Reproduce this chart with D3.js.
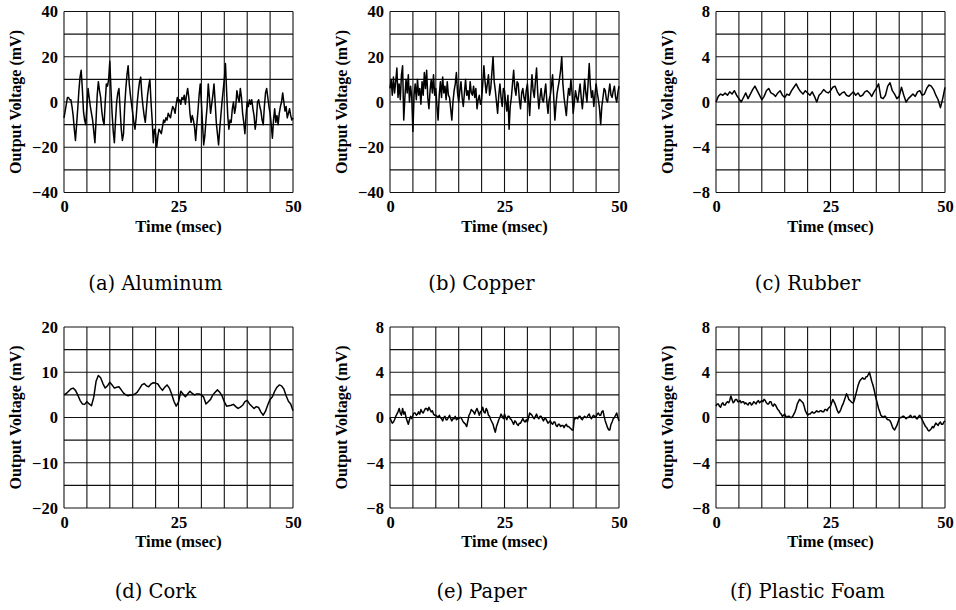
<!DOCTYPE html>
<html>
<head>
<meta charset="utf-8">
<script src="https://cdn.jsdelivr.net/npm/d3@7"></script>
<style>
  body { margin: 0; background: #fff; }
  svg { display: block; }
</style>
</head>
<body>
<svg width="956" height="610"></svg>
<script>
// panel captions
var captions = ["(a) Aluminum", "(b) Copper", "(c) Rubber", "(d) Cork", "(e) Paper", "(f) Plastic Foam"];

// y range (± mV) and tick labels of each panel
var yMax = [40, 40, 8, 20, 8, 8];
var yTicks = [
    [-40, -20, 0, 20, 40],
    [-40, -20, 0, 20, 40],
    [-8, -4, 0, 4, 8],
    [-20, -10, 0, 10, 20],
    [-8, -4, 0, 4, 8],
    [-8, -4, 0, 4, 8]
];
var xTicks = [0, 25, 50];

// sample spacing (msec) of each trace
var steps = [0.25, 0.25, 0.5, 0.5, 0.25, 0.25];

// output voltage (mV), sampled every 0.25 msec
var aluminum = [
    -7,-4,-1,2,2,1,1,-2,-6,-12,-17,-10,-3,5,11,14,6,-4,-8,-10,
    -2,6,2,-2,-5,-8,-13,-18,-8,3,9,5,2,-4,-8,-10,0,8,7,10,
    18,6,-5,-13,-18,-8,0,4,6,-3,-12,-17,-14,-2,6,12,16,8,3,-1,
    -5,-9,-12,-7,0,5,9,11,3,-2,-6,-9,-3,3,7,10,0,-8,-18,-12,
    -14,-20,-15,-12,-13,-14,-11,-8,-9,-7,-8,-5,-6,-7,-4,-2,-3,-5,-1,2,
    0,1,-1,2,1,3,-1,3,6,2,-5,-9,-6,-8,-11,-17,-10,-4,3,8,
    0,-10,-19,-15,-8,-2,8,2,-5,-1,3,8,0,-9,-14,-19,-12,-6,0,5,
    10,17,5,-6,-12,-8,-9,-3,0,-5,-2,5,2,0,6,2,-5,-9,-14,-6,
    0,-2,1,-1,1,-3,-6,-12,-8,0,1,-2,-4,-8,-10,-2,4,6,2,-2,
    -5,-10,-16,-8,-3,-9,-6,-10,-5,-2,0,4,0,-4,-2,-7,-5,-3,-6,-8,
    -7
];

// sampled every 0.25 msec
var copper = [
    6,10,3,11,4,9,15,2,8,1,12,16,-8,2,10,4,12,0,7,2,
    -13,3,8,1,10,3,6,-1,9,3,13,6,14,2,-3,5,10,4,12,3,
    6,-2,-8,3,9,2,11,4,7,1,9,3,2,-3,-8,0,5,8,13,4,
    0,5,9,2,-2,4,10,3,5,1,9,4,3,7,2,6,-3,1,3,-1,
    1,8,16,9,4,8,12,3,6,13,20,9,5,0,-5,3,8,2,-2,6,
    5,0,-4,3,-12,-2,2,8,14,6,3,9,8,1,-3,4,6,2,0,5,
    8,1,-6,4,12,5,2,9,15,4,-3,2,6,1,0,4,8,0,-5,1,
    3,7,12,2,-8,-1,4,7,10,14,20,8,2,-2,-6,1,6,3,10,4,
    -5,0,5,2,0,4,8,2,-3,3,10,4,0,8,17,7,2,5,-2,3,
    8,4,1,-3,-10,-2,2,6,5,1,0,4,8,3,2,5,7,2,0,4,
    7
];

// sampled every 0.5 msec
var rubber = [
    0.0,0.5,0.7,0.6,0.8,0.6,0.9,0.7,1.0,0.6,
    0.3,0.0,0.4,0.8,0.3,0.7,1.1,1.4,1.0,0.6,
    0.2,0.5,1.0,1.2,0.8,0.7,0.5,0.8,1.0,0.6,
    0.4,0.7,0.6,1.0,1.3,1.6,1.2,0.9,0.7,1.0,
    0.8,0.6,0.9,0.5,0.0,0.6,0.8,1.1,0.9,0.8,
    1.0,1.3,1.4,0.9,0.6,0.8,0.9,0.6,0.5,0.7,
    0.9,0.6,0.8,0.5,0.6,0.9,1.0,0.8,0.5,0.9,
    1.2,1.6,0.4,0.3,0.6,1.4,1.7,1.0,0.7,0.3,
    0.5,1.3,0.6,0.0,0.3,0.5,0.7,0.5,0.9,1.0,
    0.6,0.7,1.2,1.5,1.4,1.1,0.6,0.2,-0.5,0.3,
    1.3
];

// sampled every 0.5 msec
var cork = [
    5.0,5.3,5.8,6.3,6.5,6.0,5.0,3.8,3.0,2.9,
    3.5,3.0,2.6,4.5,8.0,9.3,8.8,7.5,6.5,7.0,
    7.8,7.2,6.5,6.7,6.8,6.1,5.4,5.0,4.8,5.0,
    5.0,5.2,5.6,6.4,7.2,7.5,7.0,6.8,7.4,7.7,
    7.6,7.4,6.6,6.0,6.7,7.2,6.5,5.2,3.6,2.5,
    3.4,5.8,5.2,4.6,5.2,5.8,5.3,5.0,5.2,5.2,
    5.0,4.5,3.0,3.5,4.0,5.0,5.6,6.1,5.6,4.8,
    3.5,2.5,2.6,2.7,2.9,2.4,2.0,2.3,2.7,3.5,
    3.8,3.0,2.5,2.0,2.4,2.2,1.2,0.5,1.4,2.8,
    4.0,4.6,5.8,6.7,7.2,7.0,6.3,4.8,3.6,3.0,
    1.5
];

// sampled every 0.25 msec
var paper = [
    0.0,-0.3,-0.5,-0.4,-0.2,0.1,0.3,0.5,0.8,0.4,0.2,0.8,0.3,0.5,0.0,-0.3,-0.6,-0.2,0.1,-0.1,
    0.2,0.4,0.4,0.2,0.3,0.5,0.3,0.7,0.5,0.4,0.6,0.8,0.8,0.6,0.9,0.7,0.5,0.6,0.3,0.2,
    0.2,0.1,0.0,0.2,0.0,-0.1,-0.3,0.0,0.1,-0.2,-0.2,0.0,0.2,-0.1,-0.3,-0.1,-0.1,0.1,-0.2,-0.1,
    -0.1,0.0,0.0,-0.2,-0.4,-0.5,-0.6,-0.8,-0.3,0.2,0.4,0.7,0.6,0.5,0.3,0.6,0.8,0.5,0.2,0.5,
    0.6,0.9,0.5,0.4,0.8,0.6,0.2,0.1,-0.2,-0.4,-0.6,-1.0,-1.3,-0.8,-0.5,-0.2,0.0,0.3,0.1,-0.1,
    0.3,0.0,-0.2,0.1,0.1,-0.1,-0.2,-0.4,-0.6,-0.3,-0.4,-0.6,-0.7,-0.5,-0.5,-0.3,-0.1,-0.3,-0.4,-0.2,
    -0.4,0.0,0.4,0.3,0.2,0.0,-0.1,0.1,0.3,0.0,-0.1,0.1,0.1,-0.1,-0.3,-0.1,-0.1,-0.3,-0.5,-0.4,
    -0.3,-0.5,-0.6,-0.4,-0.4,-0.7,-0.8,-0.6,-0.6,-0.8,-0.7,-0.7,-0.9,-0.7,-0.6,-0.8,-0.8,-0.9,-1.0,-1.1,
    -1.1,0.0,-0.1,0.0,-0.1,0.1,0.1,-0.1,-0.2,0.0,0.1,0.0,0.0,0.2,0.3,0.0,-0.1,0.1,0.2,0.0,
    0.1,0.3,0.4,0.2,0.2,0.5,0.6,0.1,-0.3,-0.6,-0.9,-1.1,-1.1,-0.6,-0.4,-0.1,0.0,0.2,0.4,0.0,
    -0.3
];

// sampled every 0.25 msec
var foam = [
    1.0,1.2,1.2,1.0,0.9,1.2,1.3,1.1,1.1,1.3,1.4,1.3,1.5,1.9,1.6,1.3,1.4,1.6,1.6,1.4,
    1.4,1.5,1.3,1.4,1.4,1.2,1.3,1.2,1.1,1.3,1.3,1.1,1.2,1.4,1.3,1.2,1.4,1.5,1.3,1.4,
    1.5,1.4,1.6,1.5,1.3,1.2,1.2,1.4,1.4,1.1,1.0,1.2,1.1,0.9,0.7,0.6,0.4,0.3,0.1,0.2,
    0.3,0.1,0.0,0.1,0.1,0.0,0.0,0.1,0.3,0.5,0.8,1.2,1.4,1.6,1.5,1.4,1.3,1.0,0.6,0.4,
    0.2,0.3,0.3,0.4,0.5,0.4,0.4,0.5,0.6,0.5,0.5,0.6,0.6,0.5,0.5,0.7,0.7,0.6,0.8,0.9,
    1.0,1.3,1.6,1.4,1.2,0.9,0.6,0.4,0.5,0.7,1.0,1.2,1.5,1.8,2.1,1.9,1.6,1.5,1.4,1.3,
    1.3,1.6,2.0,2.4,2.8,3.1,3.3,3.4,3.5,3.4,3.4,3.6,3.6,3.8,4.0,3.6,3.2,2.9,2.5,2.0,
    1.6,1.2,0.8,0.5,0.2,0.1,0.0,0.1,0.1,-0.1,-0.2,-0.2,-0.3,-0.5,-0.8,-1.0,-1.1,-0.9,-0.7,-0.4,
    -0.1,0.0,0.0,0.1,0.1,0.0,-0.1,0.0,0.0,0.1,0.2,0.0,0.0,0.1,0.1,-0.1,-0.1,0.1,0.2,0.0,
    -0.2,-0.4,-0.6,-0.8,-0.9,-1.1,-1.2,-1.1,-1.0,-0.8,-0.9,-0.7,-0.5,-0.6,-0.7,-0.5,-0.4,-0.6,-0.6,-0.4,
    -0.3
];

var series = [aluminum, copper, rubber, cork, paper, foam];

var svg = d3.select("svg");
var W = 229, H = 181;
var colX = [64, 390, 716], rowY = [11.5, 327], captionY = [290, 598];
var axisFont = "'Liberation Serif', 'Times New Roman', serif";

series.forEach(function(values, k) {
    var x0 = colX[k % 3], y0 = rowY[Math.floor(k / 3)];
    var g = svg.append("g").attr("transform", "translate(" + x0 + "," + y0 + ")");

    var x = d3.scaleLinear().domain([0, 50]).range([0, W]);
    var y = d3.scaleLinear().domain([-yMax[k], yMax[k]]).range([H, 0]);

    // grid: every 5 msec and every eighth of the voltage range
    g.selectAll(".vgrid")
        .data(d3.range(0, 51, 5))
        .enter()
        .append("line")
            .attr("x1", function(d) { return x(d); })
            .attr("x2", function(d) { return x(d); })
            .attr("y1", 0)
            .attr("y2", H)
            .style("stroke", "#111")
            .style("stroke-width", 1.1);

    g.selectAll(".hgrid")
        .data(d3.range(-4, 5).map(function(i) { return i * yMax[k] / 4; }))
        .enter()
        .append("line")
            .attr("x1", 0)
            .attr("x2", W)
            .attr("y1", function(d) { return y(d); })
            .attr("y2", function(d) { return y(d); })
            .style("stroke", "#111")
            .style("stroke-width", 1.1);

    var line = d3.line()
        .x(function(d, i) { return x(i * steps[k]); })
        .y(function(d) { return y(d); });

    g.append("path")
        .datum(values)
        .attr("d", line)
        .style("fill", "none")
        .style("stroke", "#000")
        .style("stroke-width", 1.5)
        .style("stroke-linejoin", "round");

    var yAxis = g.append("g")
        .call(d3.axisLeft(y).tickValues(yTicks[k]).tickSize(0).tickPadding(6));
    var xAxis = g.append("g")
        .attr("transform", "translate(0," + H + ")")
        .call(d3.axisBottom(x).tickValues(xTicks).tickSize(0).tickPadding(8));

    [yAxis, xAxis].forEach(function(a) {
        a.select(".domain").remove();
        a.attr("font-family", axisFont)
            .attr("font-size", 16.5)
            .attr("font-weight", "bold");
        a.selectAll("text").style("fill", "#000");
    });

    g.append("text")
        .attr("transform", "rotate(-90)")
        .attr("x", -H / 2)
        .attr("y", -43)
        .attr("text-anchor", "middle")
        .style("font-family", axisFont)
        .style("font-size", "16px")
        .style("font-weight", "bold")
        .text("Output Voltage (mV)");

    g.append("text")
        .attr("x", W / 2)
        .attr("y", H + 39)
        .attr("text-anchor", "middle")
        .style("font-family", axisFont)
        .style("font-size", "16.5px")
        .style("font-weight", "bold")
        .text("Time (msec)");

    svg.append("text")
        .attr("x", x0 + W / 2 - 23)
        .attr("y", captionY[Math.floor(k / 3)])
        .attr("text-anchor", "middle")
        .style("font-family", "'DejaVu Serif', serif")
        .style("font-size", "19.5px")
        .text(captions[k]);
});
</script>
</body>
</html>
